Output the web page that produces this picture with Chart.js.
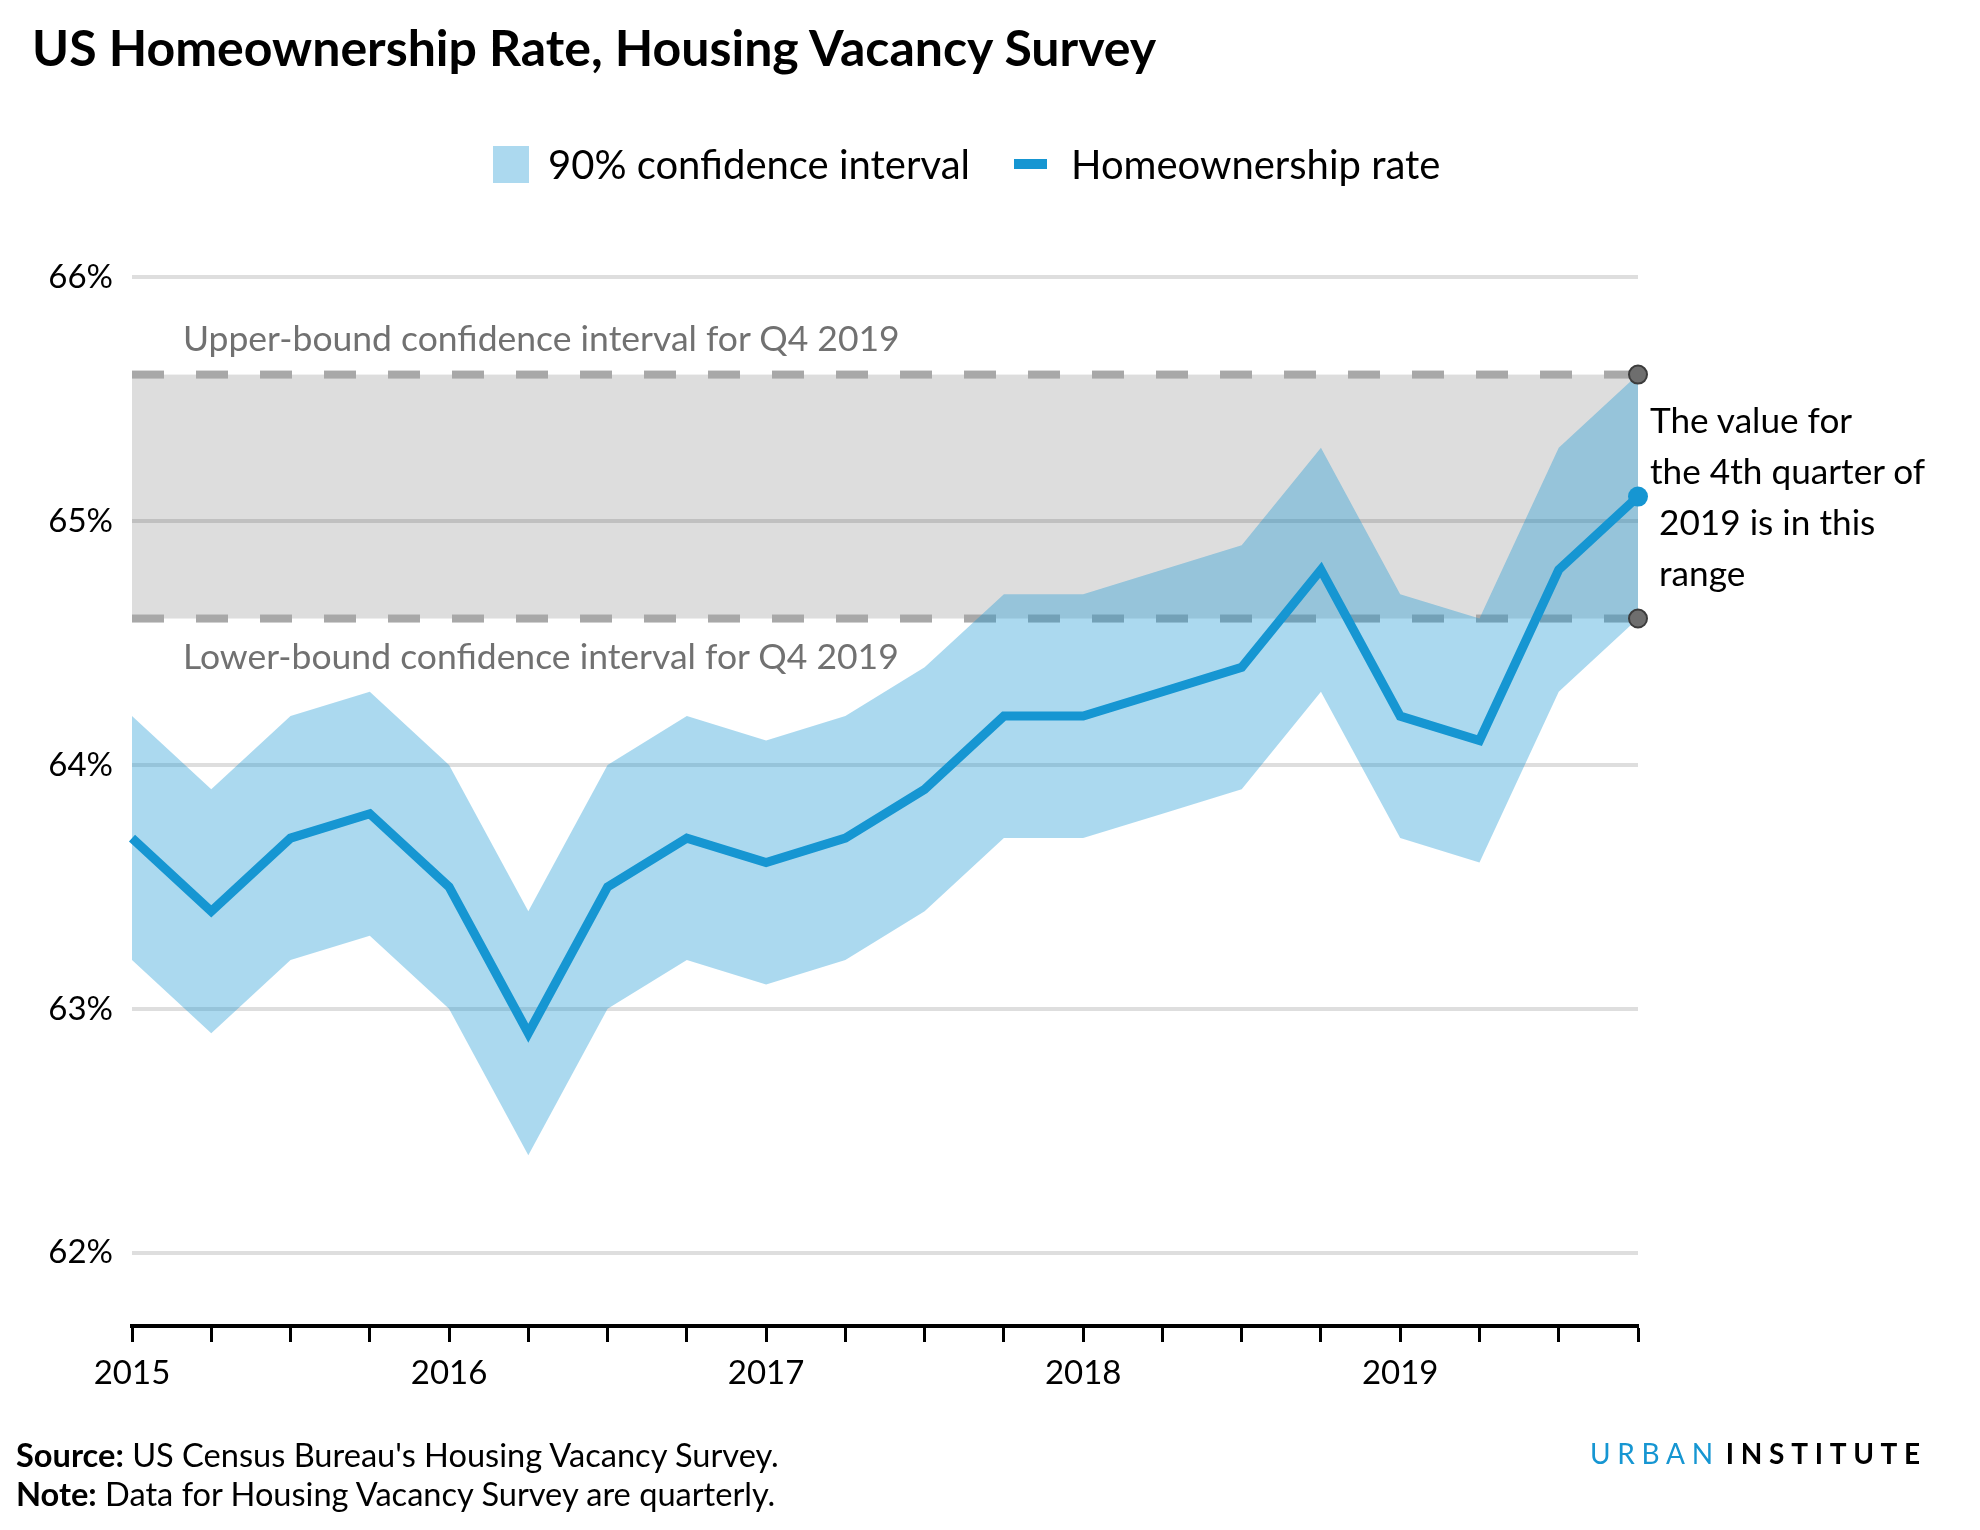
<!DOCTYPE html>
<html>
<head>
<meta charset="utf-8">
<script src="https://cdn.jsdelivr.net/npm/chart.js@4.4.1/dist/chart.umd.min.js"></script>
<style>
  html, body { margin:0; padding:0; background:#fff; }
  body { width:1980px; height:1530px; position:relative; overflow:hidden; font-family: Lato, "Noto Sans", sans-serif; color:#000; }
  #c { position:absolute; left:0; top:0; width:1980px; height:1530px; }
  .t { position:absolute; white-space:pre; line-height:1.2; }
  .title { left:32px; top:17px; font-size:50px; font-weight:700; }
  .leg { top:140px; font-size:40px; }
  .box { position:absolute; left:493px; top:146px; width:36px; height:37px; background:#acd9ef; }
  .lmark { position:absolute; left:1014px; top:159px; width:33px; height:10px; background:#1696d2; }
  .ann { font-size:35.5px; color:#717171; left:183px; }
  .note { position:absolute; left:1650px; top:394px; font-size:35.2px; line-height:51px; white-space:pre; }
  .foot { left:16px; font-size:32.6px; }
  .urban { position:absolute; left:1590px; top:1436px; font-size:28px; line-height:34px; letter-spacing:6.7px; white-space:nowrap; }
</style>
</head>
<body>
<canvas id="c" width="1980" height="1530"></canvas>

<div class="t title">US Homeownership Rate, Housing Vacancy Survey</div>

<div class="box"></div>
<div class="t leg" style="left:548px;">90% confidence interval</div>
<div class="lmark"></div>
<div class="t leg" style="left:1071px;">Homeownership rate</div>

<div class="t ann" style="top:317px;">Upper-bound confidence interval for Q4 2019</div>
<div class="t ann" style="top:635px;">Lower-bound confidence interval for Q4 2019</div>

<div class="note">The value for
the 4th quarter of
 2019 is in this
 range</div>

<div class="t foot" style="top:1435px;"><b>Source:</b> US Census Bureau's Housing Vacancy Survey.</div>
<div class="t foot" style="top:1474px;"><b>Note:</b> Data for Housing Vacancy Survey are quarterly.</div>

<div class="urban"><span style="color:#1696d2;">URBAN</span><span style="font-weight:700; margin-left:6px;">INSTITUTE</span></div>

<script>
// ---- Data ----
const categories = [
  '2015 Q1','2015 Q2','2015 Q3','2015 Q4',
  '2016 Q1','2016 Q2','2016 Q3','2016 Q4',
  '2017 Q1','2017 Q2','2017 Q3','2017 Q4',
  '2018 Q1','2018 Q2','2018 Q3','2018 Q4',
  '2019 Q1','2019 Q2','2019 Q3','2019 Q4'
];
const xTickLabels = [
  '2015','','','',
  '2016','','','',
  '2017','','','',
  '2018','','','',
  '2019','','',''
];
const homeownershipRate = [
  63.7, 63.4, 63.7, 63.8,
  63.5, 62.9, 63.5, 63.7,
  63.6, 63.7, 63.9, 64.2,
  64.2, 64.3, 64.4, 64.8,
  64.2, 64.1, 64.8, 65.1
];
const upperBound = [
  64.2, 63.9, 64.2, 64.3,
  64.0, 63.4, 64.0, 64.2,
  64.1, 64.2, 64.4, 64.7,
  64.7, 64.8, 64.9, 65.3,
  64.7, 64.6, 65.3, 65.6
];
const lowerBound = [
  63.2, 62.9, 63.2, 63.3,
  63.0, 62.4, 63.0, 63.2,
  63.1, 63.2, 63.4, 63.7,
  63.7, 63.8, 63.9, 64.3,
  63.7, 63.6, 64.3, 64.6
];
const yTickValues = [62, 63, 64, 65, 66];

const BLUE = '#1696d2';

const q4BandPlugin = {
  id: 'q4band',
  beforeDatasetsDraw(chart) {
    const {ctx, chartArea: a, scales: {x, y}} = chart;
    const last = categories.length - 1;
    const xr = x.getPixelForValue(last);
    const yu = y.getPixelForValue(upperBound[last]);
    const yl = y.getPixelForValue(lowerBound[last]);
    ctx.save();
    ctx.fillStyle = 'rgba(0,0,0,0.135)';
    ctx.fillRect(a.left, yu, xr - a.left, yl - yu);
    ctx.strokeStyle = '#a8a8a8';
    ctx.lineWidth = 8;
    ctx.setLineDash([32, 32]);
    [yu, yl].forEach(yy => {
      ctx.beginPath();
      ctx.moveTo(a.left, yy);
      ctx.lineTo(xr, yy);
      ctx.stroke();
    });
    ctx.restore();
  },
  afterDatasetsDraw(chart) {
    const {ctx, scales: {x, y}} = chart;
    const last = categories.length - 1;
    const xr = x.getPixelForValue(last);
    ctx.save();
    [upperBound[last], lowerBound[last]].forEach(v => {
      ctx.beginPath();
      ctx.arc(xr, y.getPixelForValue(v), 9, 0, Math.PI * 2);
      ctx.fillStyle = '#6e6e6e';
      ctx.fill();
      ctx.lineWidth = 2;
      ctx.strokeStyle = '#3c3c3c';
      ctx.stroke();
    });
    ctx.restore();
  }
};

function build() {
  const ctx = document.getElementById('c').getContext('2d');
  new Chart(ctx, {
    type: 'line',
    data: {
      labels: categories,
      datasets: [
        {
          label: 'Homeownership rate',
          data: homeownershipRate,
          borderColor: BLUE,
          backgroundColor: BLUE,
          borderWidth: 9,
          borderJoinStyle: 'miter',
          tension: 0,
          fill: false,
          clip: false,
          order: 0,
          pointRadius: c => c.dataIndex === categories.length - 1 ? 10 : 0,
          pointBackgroundColor: BLUE,
          pointBorderWidth: 0,
          pointHoverRadius: 0
        },
        {
          label: 'lower',
          data: lowerBound,
          borderWidth: 0,
          borderColor: 'rgba(0,0,0,0)',
          pointRadius: 0,
          fill: false,
          tension: 0,
          order: 2
        },
        {
          label: '90% confidence interval',
          data: upperBound,
          borderWidth: 0,
          borderColor: 'rgba(0,0,0,0)',
          backgroundColor: 'rgba(22,150,210,0.36)',
          pointRadius: 0,
          fill: 1,
          tension: 0,
          order: 1
        }
      ]
    },
    options: {
      responsive: false,
      animation: false,
      devicePixelRatio: 1,
      layout: { padding: { left: 0, right: 342, top: 277, bottom: 124 } },
      plugins: {
        legend: { display: false },
        tooltip: { enabled: false },
        title: { display: false }
      },
      events: [],
      scales: {
        x: {
          type: 'category',
          offset: false,
          afterFit: s => { s.height = 80; },
          grid: {
            drawOnChartArea: false,
            drawTicks: true,
            tickLength: 16,
            tickWidth: 3,
            tickColor: '#000',
            offset: false
          },
          border: { display: true, color: '#000', width: 4 },
          ticks: {
            autoSkip: false,
            maxRotation: 0,
            minRotation: 0,
            padding: 12,
            color: '#000',
            font: { family: 'Lato', size: 33 },
            callback: (v, i) => xTickLabels[i]
          }
        },
        y: {
          type: 'linear',
          min: 61.7,
          max: 66,
          afterFit: s => { s.width = 132; },
          afterBuildTicks: s => { s.ticks = yTickValues.map(v => ({ value: v })); },
          grid: {
            color: '#dedede',
            lineWidth: 4,
            drawTicks: false
          },
          border: { display: false },
          ticks: {
            padding: 19,
            color: '#000',
            font: { family: 'Lato', size: 33 },
            callback: v => v + '%'
          }
        }
      }
    },
    plugins: [q4BandPlugin]
  });
}

if (document.fonts && document.fonts.load) {
  Promise.all([
    document.fonts.load('33px Lato'),
    document.fonts.load('bold 33px Lato')
  ]).then(build, build);
} else {
  build();
}
</script>
</body>
</html>
